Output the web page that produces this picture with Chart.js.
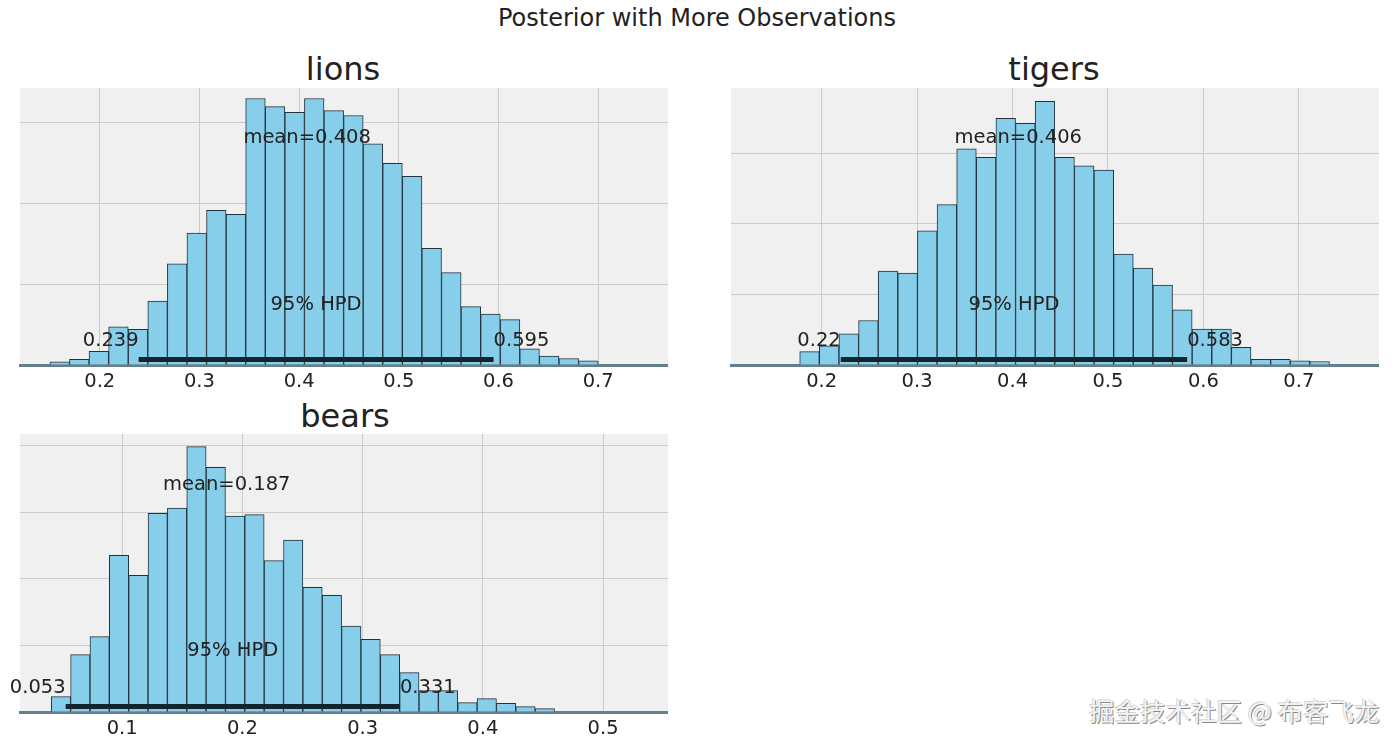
<!DOCTYPE html>
<html>
<head>
<meta charset="utf-8">
<script src="https://cdn.jsdelivr.net/npm/chart.js@4.4.0/dist/chart.umd.min.js"></script>
<style>
  body { margin: 0; background: #fff; width: 1400px; height: 745px; position: relative; overflow: hidden;
         font-family: "DejaVu Sans", sans-serif; color: #222; }
  .t { position: absolute; transform: translate(-50%, -50%); white-space: nowrap; }
  canvas { position: absolute; }
  .mark { position: absolute; left: 1089px; top: 691px; font-family: "Noto Sans CJK SC", sans-serif; font-size: 25.5px;
          color: #f4f4f4; text-shadow: 1px 1px 0 #8a8a8a, -1px -1px 0 #d6d6d6; white-space: nowrap; }
</style>
</head>
<body>
<div class="t" style="left:697px;top:18px;font-size:24px">Posterior with More Observations</div>
<div class="t" style="left:343px;top:69px;font-size:32px">lions</div>
<div class="t" style="left:1054px;top:69px;font-size:32px">tigers</div>
<div class="t" style="left:345px;top:416px;font-size:32px">bears</div>
<canvas id="lions" width="668" height="312" style="left:0px;top:88px"></canvas>
<canvas id="tigers" width="668" height="312" style="left:711px;top:88px"></canvas>
<canvas id="bears" width="668" height="313" style="left:0px;top:434px"></canvas>
<div class="mark">掘金技术社区 @ 布客飞龙</div>
<script>
// histogram heights (in units of one horizontal gridline step)
const lionsCounts = [0.04, 0.07, 0.17, 0.47, 0.44, 0.79, 1.25, 1.63, 1.91, 1.86, 3.29, 3.19, 3.12, 3.29,
  3.14, 3.08, 2.73, 2.49, 2.33, 1.44, 1.14, 0.72, 0.63, 0.56, 0.20, 0.11, 0.08, 0.05];
const tigersCounts = [0.19, 0.27, 0.44, 0.63, 1.33, 1.30, 1.90, 2.27, 3.06, 2.94, 3.49, 3.42, 3.73, 2.94,
  2.82, 2.76, 1.57, 1.37, 1.13, 0.78, 0.51, 0.51, 0.25, 0.08, 0.08, 0.06, 0.05];
const bearsCounts = [0.23, 0.86, 1.13, 2.35, 2.05, 2.98, 3.06, 3.98, 3.67, 2.94, 2.96, 2.27, 2.58, 1.87,
  1.75, 1.29, 1.09, 0.86, 0.59, 0.32, 0.32, 0.14, 0.20, 0.13, 0.08, 0.05];

// bin layout: first edge and width
const lionsBins = [0.150, 0.01964];
const tigersBins = [0.177, 0.02056];
const bearsBins = [0.041, 0.0161];

// summary stats
const lionsMean = 0.408, lionsHpd = [0.239, 0.595];
const tigersMean = 0.406, tigersHpd = [0.22, 0.583];
const bearsMean = 0.187, bearsHpd = [0.053, 0.331];

// axis limits
const lionsX = [0.12, 0.77], lionsYMax = 3.42;
const tigersX = [0.105, 0.784], tigersYMax = 3.92;
const bearsX = [0.015, 0.554], bearsYMax = 4.17;

const annoFont = '19.5px "DejaVu Sans"';

const panelPlugin = {
  id: 'panel',
  beforeDraw(chart) {
    const a = chart.chartArea;
    const ctx = chart.ctx;
    ctx.save();
    ctx.fillStyle = '#f0f0f0';
    ctx.fillRect(a.left, a.top, a.right - a.left, a.bottom - a.top);
    ctx.restore();
  },
  afterDatasetsDraw(chart, args, opts) {
    const x = chart.scales.x, y = chart.scales.y;
    const ctx = chart.ctx;
    ctx.save();
    ctx.font = annoFont;
    ctx.fillStyle = '#222';
    ctx.textBaseline = 'alphabetic';
    ctx.textAlign = 'center';
    ctx.fillText('mean=' + opts.mean, x.getPixelForValue(opts.mean), y.getPixelForValue(opts.yMax * 0.8));
    ctx.fillText('95% HPD', x.getPixelForValue((opts.hpd[0] + opts.hpd[1]) / 2), y.getPixelForValue(opts.yMax * 0.2));
    ctx.textAlign = 'right';
    ctx.fillText(String(opts.hpd[0]), x.getPixelForValue(opts.hpd[0]), y.getPixelForValue(opts.yMax * 0.07));
    ctx.textAlign = 'left';
    ctx.fillText(String(opts.hpd[1]), x.getPixelForValue(opts.hpd[1]), y.getPixelForValue(opts.yMax * 0.07));
    ctx.restore();
  }
};

function makePanel(id, counts, bins, mean, hpd, xLim, yMax) {
  const bars = counts.map((c, i) => ({ x: bins[0] + bins[1] * (i + 0.5), y: c }));
  new Chart(document.getElementById(id), {
    type: 'bar',
    data: {
      datasets: [
        {
          type: 'line',
          data: [{ x: hpd[0], y: yMax * 0.02 }, { x: hpd[1], y: yMax * 0.02 }],
          borderColor: '#13242d',
          borderWidth: 5,
          pointRadius: 0,
          order: 0,
        },
        {
          data: bars,
          backgroundColor: '#87ceeb',
          borderColor: '#22313a',
          borderWidth: 1,
          barPercentage: 1,
          categoryPercentage: 1,
          order: 1,
        },
      ],
    },
    options: {
      responsive: false,
      animation: false,
      layout: { padding: { left: 20, right: 0, top: 0, bottom: 0 } },
      plugins: {
        legend: { display: false },
        tooltip: { enabled: false },
        panel: { mean: mean, hpd: hpd, yMax: yMax },
      },
      scales: {
        x: {
          type: 'linear',
          offset: false,
          min: xLim[0],
          max: xLim[1],
          afterFit: (axis) => { axis.height = 35; },
          ticks: { stepSize: 0.1, includeBounds: false, maxRotation: 0, padding: 5, color: '#222',
                   font: { family: 'DejaVu Sans', size: 19.5 } },
          grid: { color: '#cbcbcb', lineWidth: 1, drawTicks: false, offset: false },
          border: { display: true, color: '#647f8b', width: 3 },
        },
        y: {
          min: 0,
          max: yMax,
          afterFit: (axis) => { axis.width = 0; },
          ticks: { display: false, stepSize: 1, includeBounds: false },
          grid: { color: '#cbcbcb', lineWidth: 1, drawTicks: false },
          border: { display: false },
        },
      },
    },
    plugins: [panelPlugin],
  });
}

makePanel('lions', lionsCounts, lionsBins, lionsMean, lionsHpd, lionsX, lionsYMax);
makePanel('tigers', tigersCounts, tigersBins, tigersMean, tigersHpd, tigersX, tigersYMax);
makePanel('bears', bearsCounts, bearsBins, bearsMean, bearsHpd, bearsX, bearsYMax);
</script>
</body>
</html>
